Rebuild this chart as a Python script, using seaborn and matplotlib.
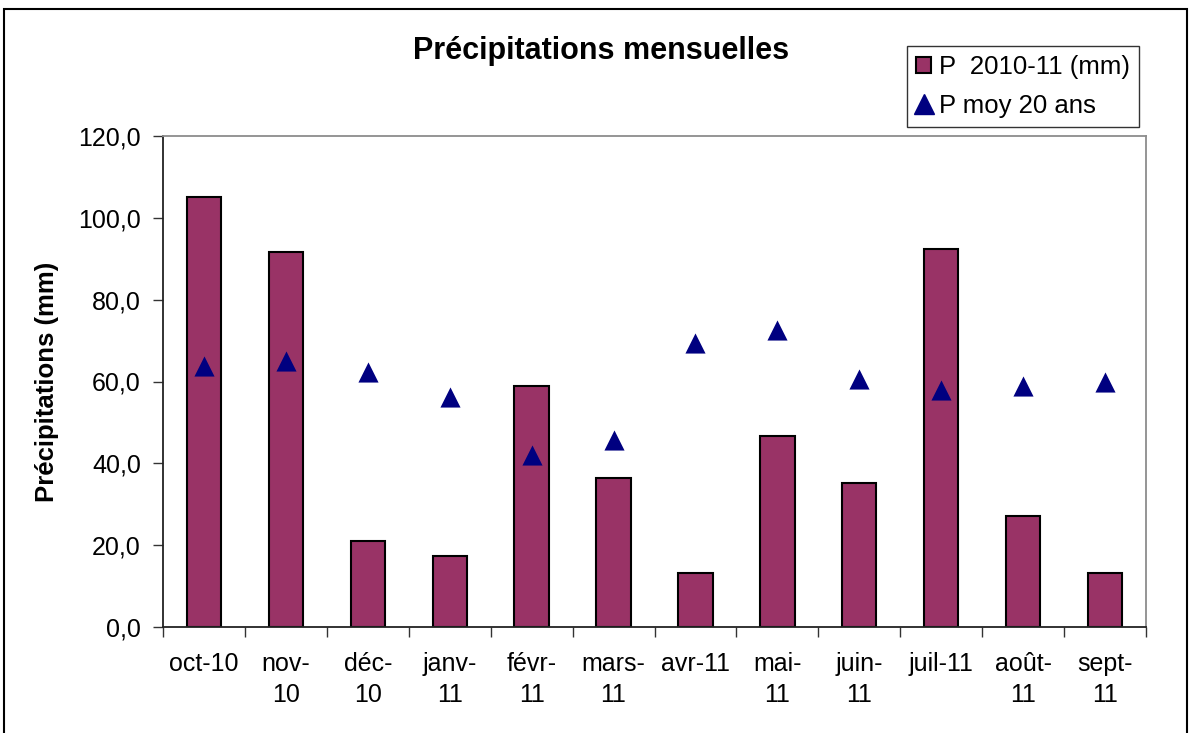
import matplotlib
matplotlib.use("Agg")
import matplotlib.pyplot as plt
import matplotlib.patches as mpatches
from matplotlib.lines import Line2D
import seaborn as sns
import pandas as pd

months = ["oct-10", "nov-\n10", "déc-\n10", "janv-\n11", "févr-\n11", "mars-\n11",
          "avr-11", "mai-\n11", "juin-\n11", "juil-11", "août-\n11", "sept-\n11"]
p_2010_11 = [105.0, 91.6, 21.1, 17.4, 58.8, 36.3, 13.2, 46.7, 35.2, 92.5, 27.2, 13.3]
p_moy_20 = [63.9, 64.9, 62.2, 56.1, 42.1, 45.8, 69.3, 72.5, 60.7, 58.0, 59.0, 59.8]
y_ticks = [0, 20, 40, 60, 80, 100, 120]

bar_color = "#993366"
tri_color = "#000080"

df = pd.DataFrame({"mois": months, "p": p_2010_11, "moy": p_moy_20})

sns.set_theme(style="white")
plt.rcParams["font.family"] = ["Liberation Sans", "DejaVu Sans"]
plt.rcParams.update({"text.color": "black", "axes.labelcolor": "black",
                     "xtick.color": "black", "ytick.color": "black"})

fig = plt.figure(figsize=(11.91, 7.33), dpi=100)
ax = fig.add_axes([163 / 1191, 1 - 627 / 733, (1146 - 163) / 1191, (627 - 136) / 733])

sns.barplot(data=df, x="mois", y="p", color=bar_color, width=0.42,
            edgecolor="black", linewidth=1.5, saturation=1, ax=ax)
sns.scatterplot(data=df, x="mois", y="moy", marker="^", s=210, color=tri_color,
                edgecolor=tri_color, linewidth=0, ax=ax, zorder=3)

ax.set_xlim(-0.5, len(months) - 0.5)
ax.set_ylim(0, 120)
ax.set_yticks(y_ticks)
ax.set_yticklabels([f"{v:.1f}".replace(".", ",") for v in y_ticks], fontsize=18)
ax.set_xticks(range(len(months)))
ax.set_xticklabels(months, fontsize=18, linespacing=1.38, va="top")
ax.set_xticks([i - 0.5 for i in range(len(months) + 1)], minor=True)
ax.tick_params(axis="x", which="major", length=0, pad=18)
ax.tick_params(axis="x", which="minor", length=7, width=1, color="#333333", direction="out",
               top=False, bottom=True)
ax.tick_params(axis="y", which="major", length=7, width=1, color="#333333", direction="out",
               left=True, pad=9)
ax.set_xlabel("")
ax.set_ylabel("")

for side in ["left", "bottom"]:
    ax.spines[side].set_color("#222222")
    ax.spines[side].set_linewidth(1.3)
for side in ["top", "right"]:
    ax.spines[side].set_color("#8c8c8c")
    ax.spines[side].set_linewidth(1.3)

fig.text(601 / 1191, 1 - 51 / 733, "Précipitations mensuelles", ha="center", va="center",
         fontsize=22, fontweight="bold")
fig.text(47 / 1191, 1 - 382 / 733, "Précipitations (mm)", ha="center", va="center",
         rotation=90, fontsize=18.5, fontweight="bold")

handles = [
    mpatches.Patch(facecolor=bar_color, edgecolor="black", linewidth=1.5),
    Line2D([], [], marker="^", linestyle="none", markersize=14, color=tri_color),
]
leg = fig.legend(handles, ["P  2010-11 (mm)", "P moy 20 ans"],
                 loc="upper left", bbox_to_anchor=(907 / 1191, 1 - 46 / 733),
                 fontsize=18.5, frameon=True, fancybox=False, handlelength=0.6,
                 handleheight=0.6, handletextpad=0.3, borderpad=0.35, labelspacing=0.58,
                 borderaxespad=0)
leg.get_frame().set_edgecolor("black")
leg.get_frame().set_linewidth(1.0)

fig.patches.append(mpatches.Rectangle((4 / 1191, -0.01), 1183 / 1191, 1 - 9 / 733 + 0.01,
                                      transform=fig.transFigure, fill=False,
                                      edgecolor="black", linewidth=1.5))

fig.savefig("out.png", dpi=100)
